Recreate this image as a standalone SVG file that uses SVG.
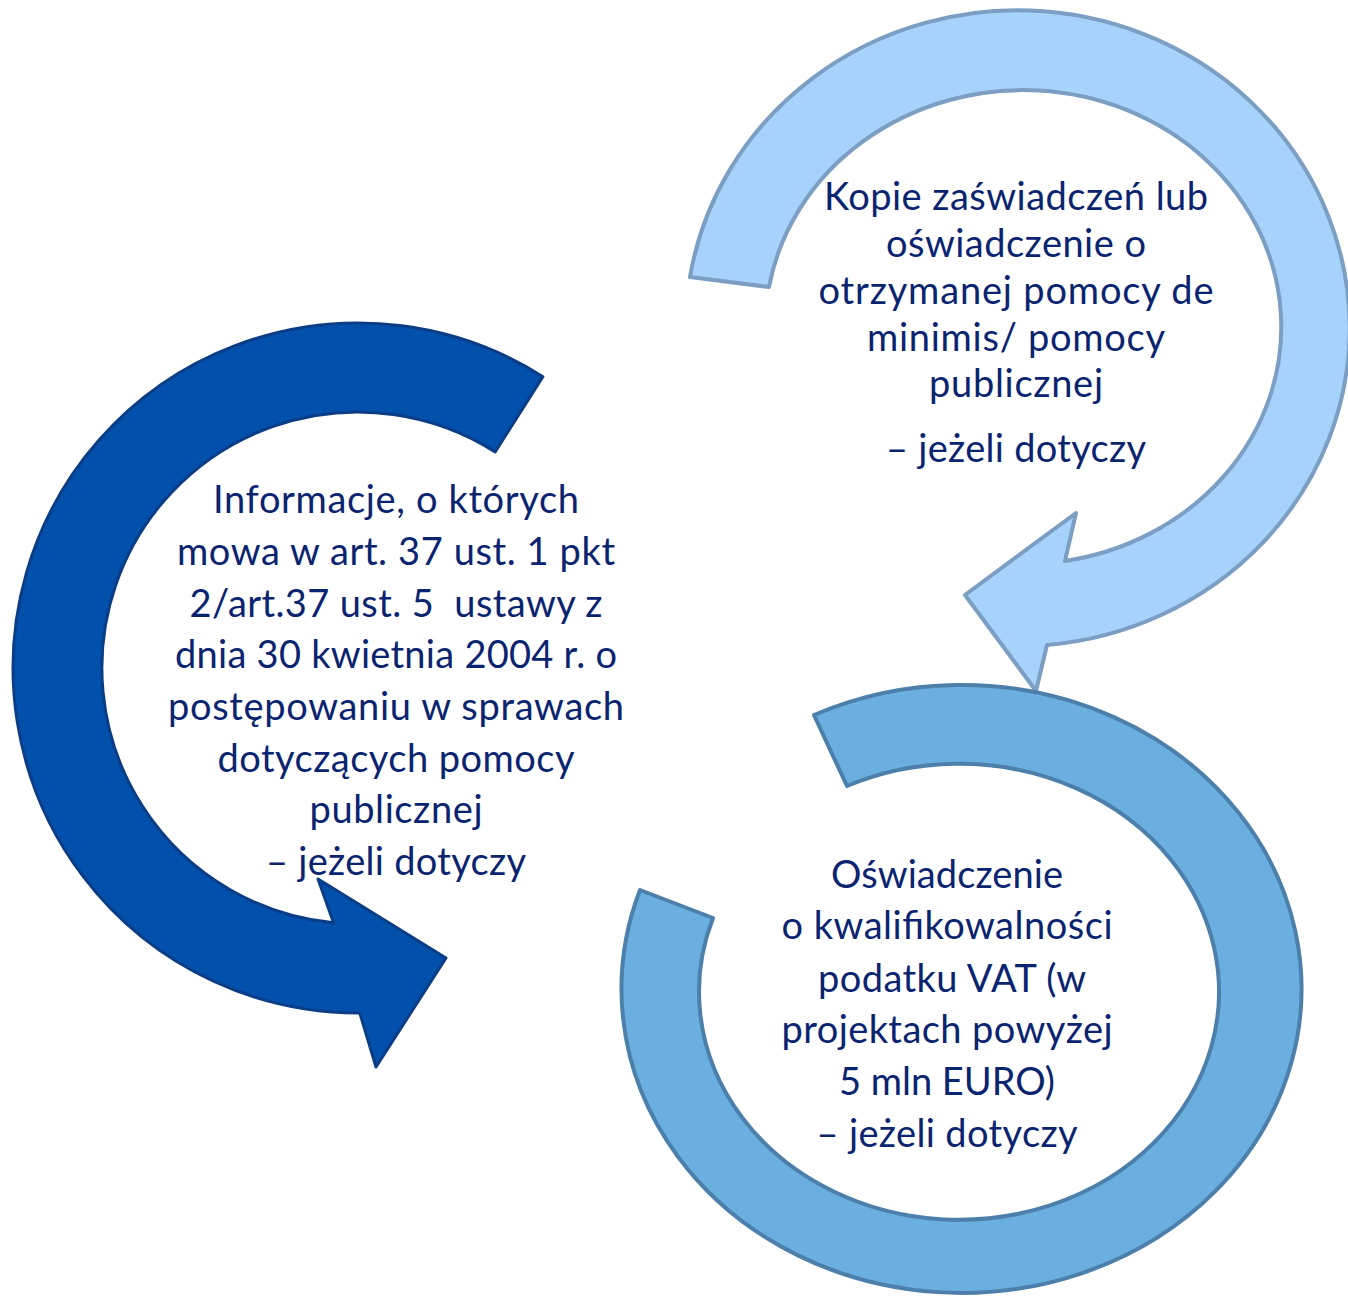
<svg xmlns="http://www.w3.org/2000/svg" width="1348" height="1298" viewBox="0 0 1348 1298">
  <style>
    .t { font-family: Lato, "Liberation Sans", sans-serif; font-size: 38px; fill: #0A2470; text-anchor: middle; white-space: pre; }
    .dark { fill: #0050AC; stroke: #0B3D86; stroke-width: 3; stroke-linejoin: round; }
    .light { fill: #A7D2FC; stroke: #7B9EC2; stroke-width: 4; stroke-linejoin: round; }
    .mid { fill: #6AAFE0; stroke: #4C80AB; stroke-width: 4; stroke-linejoin: round; }
  </style>
  <rect width="1348" height="1298" fill="#FFFFFF"/>
  <g id="connectors"/>
  <g id="node-light">
    <path class="light" d="M 690 277 A 332 318 0 1 1 1047 645 L 1036 691 L 965 595 L 1076 513 L 1065 561 A 258 237 0 1 0 769 287 Z"/>
  </g>
  <g id="node-mid">
    <path class="mid" d="M 814 715 A 340 304 0 1 1 640 890 L 713 918 A 260 228 0 1 0 847 786 Z"/>
  </g>
  <g id="node-dark">
    <path class="dark" d="M 542.9 376.7 A 345 345 0 1 0 359.8 1013 L 376 1067 L 446 958 L 318 879 L 333.5 922.8 A 256 256 0 1 1 495.2 451.9 Z"/>
  </g>
  <g id="text-dark">
    <text class="t" x="396" y="513" textLength="366" lengthAdjust="spacing">Informacje, o których</text>
    <text class="t" x="396" y="565" textLength="438" lengthAdjust="spacing">mowa w art. 37 ust. 1 pkt</text>
    <text class="t" x="396" y="617" textLength="413" lengthAdjust="spacing">2/art.37 ust. 5  ustawy z</text>
    <text class="t" x="396" y="668" textLength="442" lengthAdjust="spacing">dnia 30 kwietnia 2004 r. o</text>
    <text class="t" x="396" y="720" textLength="456" lengthAdjust="spacing">postępowaniu w sprawach</text>
    <text class="t" x="396" y="772" textLength="357" lengthAdjust="spacing">dotyczących pomocy</text>
    <text class="t" x="396" y="823" textLength="173" lengthAdjust="spacing">publicznej</text>
    <text class="t" x="396" y="875" textLength="260" lengthAdjust="spacing">– jeżeli dotyczy</text>
  </g>
  <g id="text-light">
    <text class="t" x="1016" y="210" textLength="384" lengthAdjust="spacing">Kopie zaświadczeń lub</text>
    <text class="t" x="1016" y="257" textLength="260" lengthAdjust="spacing">oświadczenie o</text>
    <text class="t" x="1016" y="304" textLength="395" lengthAdjust="spacing">otrzymanej pomocy de</text>
    <text class="t" x="1016" y="351" textLength="298" lengthAdjust="spacing">minimis/ pomocy</text>
    <text class="t" x="1016" y="397" textLength="174" lengthAdjust="spacing">publicznej</text>
    <text class="t" x="1016" y="462" textLength="260" lengthAdjust="spacing">– jeżeli dotyczy</text>
  </g>
  <g id="text-mid">
    <text class="t" x="947" y="888" textLength="232" lengthAdjust="spacing">Oświadczenie</text>
    <text class="t" x="947" y="939" textLength="331" lengthAdjust="spacing">o kwalifikowalności</text>
    <text class="t" x="952" y="992" textLength="268" lengthAdjust="spacing">podatku VAT (w</text>
    <text class="t" x="947" y="1043" textLength="331" lengthAdjust="spacing">projektach powyżej</text>
    <text class="t" x="947" y="1095" textLength="216" lengthAdjust="spacing">5 mln EURO)</text>
    <text class="t" x="947" y="1147" textLength="261" lengthAdjust="spacing">– jeżeli dotyczy</text>
  </g>
</svg>
